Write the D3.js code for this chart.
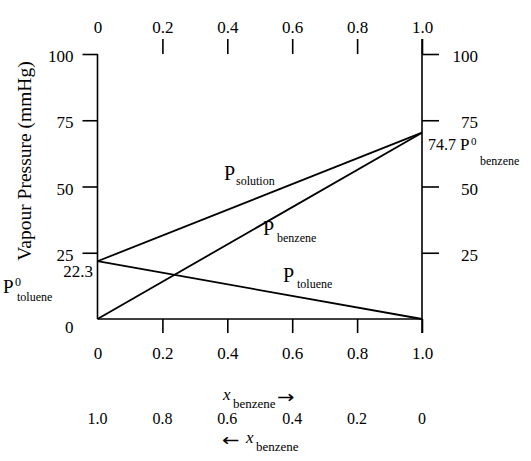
<!DOCTYPE html>
<html><head><meta charset="utf-8">
<script src="https://cdn.jsdelivr.net/npm/d3@7"></script>
<style>
html,body{margin:0;padding:0;background:#fff;}
svg{display:block;}
svg text{font-family:"Liberation Serif","Times New Roman","DejaVu Serif",serif !important;fill:#000;}
svg text.arrow{font-family:"DejaVu Sans",sans-serif !important;}
</style></head>
<body>
<script>
// ---- data ----
const xFrac = [0, 1];                 // mole fraction of benzene at the two ends
const pSolution = [21.8, 70.3];       // as drawn
const pBenzene = [0, 70.3];
const pToluene = [21.8, 0];
const xTicks = [0, 0.2, 0.4, 0.6, 0.8, 1.0];
const xTickLabels = ["0", "0.2", "0.4", "0.6", "0.8", "1.0"];
const yTicks = [25, 50, 75, 100];
const revTicks = [1.0, 0.8, 0.6, 0.4, 0.2, 0];
const revTickLabels = ["1.0", "0.8", "0.6", "0.4", "0.2", "0"];

const W = 531, H = 461;
const svg = d3.select("body").append("svg").attr("width", W).attr("height", H)
  .attr("font-family", '"Liberation Serif", serif');

const x = d3.scaleLinear().domain([0, 1]).range([97.5, 422]);
const y = d3.scaleLinear().domain([0, 100]).range([319, 54]);
const xr = d3.scaleLinear().domain([1, 0]).range([97.5, 422]);

const fmt = (v) => xTickLabels[xTicks.indexOf(v)];
const SW = 1.6;

const gTop = svg.append("g").attr("transform", `translate(0,${y(100)})`)
  .call(d3.axisTop(x).tickValues(xTicks).tickFormat(fmt).tickSize(15).tickPadding(6));
const gBot = svg.append("g").attr("transform", `translate(0,${y(0)})`)
  .call(d3.axisBottom(x).tickValues(xTicks).tickFormat(fmt).tickSize(14).tickPadding(14));
const gLeft = svg.append("g").attr("transform", `translate(${x(0)},0)`)
  .call(d3.axisLeft(y).tickValues(yTicks).tickFormat(d3.format("d")).tickSize(15).tickPadding(9));
const gRight = svg.append("g").attr("transform", `translate(${x(1)},0)`)
  .call(d3.axisRight(y).tickValues(yTicks).tickFormat(d3.format("d")).tickSize(17).tickPadding(0));

[gTop, gBot, gLeft, gRight].forEach(g => {
  g.attr("font-family", null).attr("font-size", null);
  g.select(".domain").remove();
  g.selectAll(".tick line").attr("stroke", "#000").attr("stroke-width", SW);
  g.selectAll(".tick text").style("font-size", "17px").attr("fill", "#000");
});
gTop.selectAll(".tick").filter(d => d === 0).select("line").remove();
gBot.selectAll(".tick").filter(d => d === 0).select("line").remove();
gLeft.selectAll(".tick text").attr("dy", "0.45em");
gRight.selectAll(".tick text").attr("text-anchor", "end").attr("x", 56).attr("dy", "0.45em");

const frame = svg.append("g").attr("stroke", "#000").attr("stroke-width", SW).attr("fill", "none");
frame.append("line").attr("x1", x(0)).attr("x2", x(1)).attr("y1", y(0)).attr("y2", y(0));
frame.append("line").attr("x1", x(0)).attr("x2", x(0)).attr("y1", y(100)).attr("y2", y(0));
frame.append("line").attr("x1", x(1)).attr("x2", x(1)).attr("y1", y(100) - 15).attr("y2", y(0) + 14);

svg.append("text").attr("x", x(0) - 24).attr("y", y(0) + 14).attr("text-anchor", "end")
  .style("font-size", "17px").text("0");

const line = d3.line().x((d, i) => x(xFrac[i])).y(d => y(d));
[pSolution, pBenzene, pToluene].forEach(s => {
  svg.append("path").datum(s).attr("d", line).attr("fill", "none")
    .attr("stroke", "#000").attr("stroke-width", 1.8);
});

svg.append("text").attr("transform", "translate(31,161) rotate(-90)")
  .attr("text-anchor", "middle").style("font-size", "19.5px").text("Vapour Pressure (mmHg)");

function txt(xp, yp, s, size, opts = {}) {
  const t = svg.append("text").attr("x", xp).attr("y", yp).style("font-size", size + "px").text(s);
  if (opts.anchor) t.attr("text-anchor", opts.anchor);
  if (opts.italic) t.attr("font-style", "italic").style("font-style", "italic");
  if (opts.cls) t.attr("class", opts.cls);
  return t;
}
function arrow(xp, yp, s) {
  return svg.append("text").attr("class", "arrow")
    .attr("transform", `translate(${xp},${yp}) scale(1.3,1.1)`)
    .style("font-size", "16px").text(s);
}
txt(224, 180, "P", 20); txt(236, 185, "solution", 12);
txt(263, 235, "P", 20); txt(277, 242, "benzene", 12);
txt(283, 282, "P", 20); txt(297, 288, "toluene", 12);

txt(93, 277, "22.3", 17, {anchor: "end"});
txt(3, 293, "P", 19); txt(15, 286, "0", 12); txt(17, 301, "toluene", 12);
txt(428, 150, "74.7", 16); txt(460, 150, "P", 17); txt(471, 145, "0", 11); txt(480, 165, "benzene", 12);

txt(223, 400, "x", 17, {italic: true}); txt(233, 408, "benzene", 13); arrow(277, 403, "\u2192");
svg.append("g").selectAll("text").data(revTicks).join("text")
  .attr("x", d => xr(d)).attr("y", 424).attr("text-anchor", "middle")
  .style("font-size", "16px").text((d, i) => revTickLabels[i]);
arrow(222, 446, "\u2190"); txt(246, 443, "x", 17, {italic: true}); txt(256, 451, "benzene", 13);
</script>
</body></html>
